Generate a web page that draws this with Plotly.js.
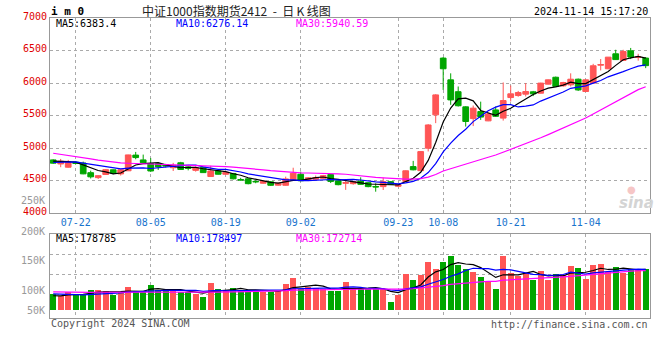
<!DOCTYPE html>
<html><head><meta charset="utf-8">
<script src="https://cdn.plot.ly/plotly-3.0.1.min.js"></script>
<style>html,body{margin:0;padding:0;background:#fff}#chart{width:660px;height:360px}</style>
</head><body><div id="chart"></div>
<script>
// ---- data ----
const dates = ['07-17','07-18','07-19','07-22','07-23','07-24','07-25','07-26','07-29','07-30','07-31',
 '08-01','08-02','08-05','08-06','08-07','08-08','08-09','08-12','08-13','08-14','08-15','08-16','08-19','08-20','08-21','08-22','08-23','08-26','08-27','08-28','08-29','08-30',
 '09-02','09-03','09-04','09-05','09-06','09-09','09-10','09-11','09-12','09-13','09-18','09-19','09-20','09-23','09-24','09-25','09-26','09-27','09-30',
 '10-08','10-09','10-10','10-11','10-14','10-15','10-16','10-17','10-18','10-21','10-22','10-23','10-24','10-25','10-28','10-29','10-30','10-31',
 '11-01','11-04','11-05','11-06','11-07','11-08','11-11','11-12','11-13','11-14'];
const openP  = [4820,4758,4708,4785,4772,4624,4548,4596,4668,4605,4653,4894,4820,4764,4762,4748,4700,4776,4712,4660,
 4705,4565,4650,4600,4612,4518,4530,4490,4462,4484,4432,4430,4512,4600,4510,4523,4538,4595,4500,4462,
 4455,4495,4470,4412,4410,4486,4415,4490,4717,4655,5000,5512,6384,6050,5868,5635,5455,5563,5420,5588,
 5462,5778,5809,5830,5866,5845,5984,6090,5958,5973,6060,5871,6000,6275,6220,6450,6348,6496,6395,6384];
const highP  = [4830,4835,4820,4795,4794,4655,4585,4680,4672,4675,4900,4943,4902,4848,4775,4760,4775,4790,4720,4720,
 4715,4730,4655,4640,4620,4545,4535,4508,4505,4490,4470,4563,4700,4640,4555,4580,4590,4605,4505,4500,
 4495,4553,4475,4461,4548,4495,4445,4660,4805,4955,5370,5830,6400,6150,5948,5645,5655,5715,5545,5640,
 6010,5963,5880,6000,5880,6005,6055,6100,6020,6150,6070,6055,6296,6370,6400,6512,6512,6540,6450,6400];
const lowP   = [4760,4708,4700,4755,4600,4535,4527,4590,4600,4580,4650,4830,4770,4636,4666,4705,4650,4668,4660,4640,
 4620,4560,4595,4595,4520,4505,4445,4462,4455,4420,4425,4425,4510,4495,4495,4515,4530,4465,4430,4360,
 4440,4440,4400,4332,4358,4435,4405,4486,4660,4650,4950,5385,5895,5666,5640,5332,5340,5435,5415,5480,
 5424,5717,5790,5794,5800,5840,5980,5945,5945,5948,5880,5865,5995,6195,6215,6358,6340,6369,6345,6230];
const closeP = [4770,4800,4780,4765,4606,4560,4578,4670,4617,4668,4897,4856,4776,4650,4712,4725,4738,4673,4690,4697,
 4625,4650,4600,4630,4530,4512,4455,4484,4492,4430,4462,4528,4615,4500,4545,4550,4578,4490,4440,4470,
 4486,4445,4410,4405,4486,4446,4438,4653,4668,4948,5357,5819,6220,5742,5652,5410,5615,5478,5527,5490,
 5732,5835,5855,5871,5835,6000,6050,5950,6009,6060,5895,6050,6266,6285,6399,6361,6486,6400,6402,6268];
const volume = [70900,63700,78100,70900,68000,89600,89600,85300,65100,78100,102600,85300,85300,111300,89600,82400,89600,81000,78100,72300,
 56400,119900,94000,82400,98300,85300,89600,89600,78100,78100,82400,117000,141600,94000,101200,96900,94000,82400,82400,121400,
 94000,94000,94000,94000,94000,37700,68000,158900,132900,154600,210900,180600,210900,238300,197900,180600,167600,145900,128600,94000,
 238300,163200,150300,163200,132900,171900,132900,158900,154600,193600,184900,137300,197900,202200,167600,189200,163200,180600,180600,180600];
// sessions before the window (only used so the moving averages start where the picture shows them)
const preCloses = [5260,5230,5210,5190,5170,5150,5120,5100,5080,5020,4960,4930,4900,4870,4850,4820,4790,4760,4740,4709,
 4740,4770,4750,4780,4760,4790,4820,4800,4820];
const preVolumes = [92000,80000,88000,95000,78000,84000,90000,76000,86000,82000,88000,93000,79000,85000,87000,81000,90000,83000,80000,89000,
 84000,78000,86000,79000,77500,64000,58000,66000,59600];
const tickDates = ['07-22','08-05','08-19','09-02','09-23','10-08','10-21','11-04'];
const priceTicks = [4000,4500,5000,5500,6000,6500,7000];
const volAxisLabels = ['200K','150K','100K','50K'];
const strayVolLabel = '250K';
const titleText = '中证1000指数期货2412\u00a0\u00a0-\u00a0\u00a0日\u2009K\u2009线图';
const stampText = '2024-11-14 15:17:20';
const codeText = 'i m 0';
const priceMALabels = ['MA5:6383.4','MA10:6276.14','MA30:5940.59'];
const volMALabels = ['MA5:178785','MA10:178497','MA30:172714'];
const footLeft = 'Copyright 2024 SINA.COM';
const footRight = 'http://finance.sina.com.cn';

// ---- helpers ----
const RED = '#FF5555', GREEN = '#00A600';
const MA_COLORS = ['#000000', '#0000FF', '#FF00FF'];
const idx = dates.map((d, i) => i);
function movingAvg(vals, pre, n) {
  const all = pre.concat(vals), off = pre.length;
  return vals.map((_, i) => { let s = 0; for (let k = 0; k < n; k++) s += all[off + i - k]; return s / n; });
}
const periods = [5, 10, 30];
const barColors = closeP.map((c, i) => c >= openP[i] ? RED : GREEN);

const TOP = 18, BOT = 318; // paper area in pixels
const L = 50, W = 600;
const py = p => (BOT - p) / (BOT - TOP);
const px = p => (p - L) / W;
const MONO = 'DejaVu Sans Mono, monospace';

const traces = [];
traces.push({
  type: 'candlestick', x: idx, open: openP, high: highP, low: lowP, close: closeP,
  xaxis: 'x', yaxis: 'y',
  increasing: {line: {color: RED, width: 1}, fillcolor: RED},
  decreasing: {line: {color: GREEN, width: 1}, fillcolor: GREEN},
  whiskerwidth: 0, hoverinfo: 'skip', showlegend: false
});
periods.forEach((n, k) => traces.push({
  type: 'scatter', mode: 'lines', x: idx, y: movingAvg(closeP, preCloses, n),
  xaxis: 'x', yaxis: 'y', line: {color: MA_COLORS[k], width: 1.2}, hoverinfo: 'skip', showlegend: false
}));
traces.push({
  type: 'bar', x: idx, y: volume, xaxis: 'x2', yaxis: 'y2', width: 0.76,
  marker: {color: barColors, line: {width: 0}}, hoverinfo: 'skip', showlegend: false
});
periods.forEach((n, k) => traces.push({
  type: 'scatter', mode: 'lines', x: idx, y: movingAvg(volume, preVolumes, n),
  xaxis: 'x2', yaxis: 'y2', line: {color: MA_COLORS[k], width: 1.2}, hoverinfo: 'skip', showlegend: false
}));

const tickIdx = tickDates.map(d => dates.indexOf(d));
const xRange = [-0.427, 79.573];
const gridStyle = {showgrid: true, gridcolor: '#AAAAAA', griddash: 'dot', gridwidth: 1,
  showline: true, linecolor: '#999999', linewidth: 1, mirror: true, zeroline: false, ticks: '', fixedrange: true};

const ann = [];
function addText(text, xp, yp, opts) {
  ann.push(Object.assign({text, x: px(xp), y: py(yp), xref: 'paper', yref: 'paper', showarrow: false,
    xanchor: 'left', yanchor: 'middle', borderpad: 0,
    font: {family: MONO, size: 10, color: '#000'}}, opts || {}));
}
addText('<b>' + codeText + '</b>', 50, 11.5, {font: {family: MONO, size: 11, color: '#000'}});
addText(titleText, 236.5, 10.5, {xanchor: 'center', font: {family: 'Noto Sans CJK SC, sans-serif', size: 12, color: '#222'}});
addText(stampText, 649, 11.5, {xanchor: 'right'});
const maX = [55, 175, 295];
priceMALabels.forEach((t, k) => addText(t, maX[k], 23.5, {font: {family: MONO, size: 10, color: MA_COLORS[k]}}));
volMALabels.forEach((t, k) => addText(t, maX[k], 238.5, {font: {family: MONO, size: 10, color: MA_COLORS[k]}}));
const volLabelY = [231, 260.7, 290.7, 310.7];
volAxisLabels.forEach((t, k) => addText(t, 46, volLabelY[k], {xanchor: 'right', font: {family: MONO, size: 10, color: '#999'}}));
addText(strayVolLabel, 46, 200.7, {xanchor: 'right', font: {family: MONO, size: 10, color: '#999'}});
addText(footLeft, 50, 323.5, {font: {family: MONO, size: 10, color: '#555'}});
addText(footRight, 649, 324, {xanchor: 'right', font: {family: MONO, size: 10, color: '#555'}});
addText('<b><i>sina</i></b>', 636, 203, {xanchor: 'center', font: {family: 'DejaVu Sans, sans-serif', size: 15, color: '#D4D4D4'}});
addText('●', 631, 190, {xanchor: 'center', font: {family: 'DejaVu Sans, sans-serif', size: 10, color: '#F6C6C6'}});

const layout = {
  width: 660, height: 360,
  margin: {l: L, r: 660 - L - W, t: TOP, b: 360 - BOT, pad: 0},
  paper_bgcolor: '#fff', plot_bgcolor: '#fff',
  showlegend: false, bargap: 0, boxgap: 0.24, boxgroupgap: 0,
  xaxis: Object.assign({}, gridStyle, {domain: [0, 1], anchor: 'y', range: xRange, tickvals: tickIdx, ticktext: tickDates,
    tickfont: {family: MONO, size: 10, color: '#1874CD'}, rangeslider: {visible: false}, ticklabelstandoff: 0}),
  yaxis: Object.assign({}, gridStyle, {domain: [py(213.3), 1], anchor: 'x', range: [4000, 7000], tickvals: priceTicks,
    tickfont: {family: MONO, size: 10, color: '#E00000'}, ticklabelshift: -2}),
  xaxis2: Object.assign({}, gridStyle, {domain: [0, 1], anchor: 'y2', range: xRange, tickvals: tickIdx, showticklabels: false}),
  yaxis2: Object.assign({}, gridStyle, {domain: [0, py(234.3)], anchor: 'x2', range: [-32900, 330800],
    tickvals: [68000, 154600, 241200], showticklabels: false}),
  annotations: ann
};
Plotly.newPlot('chart', traces, layout, {staticPlot: true, displayModeBar: false});
</script></body></html>
